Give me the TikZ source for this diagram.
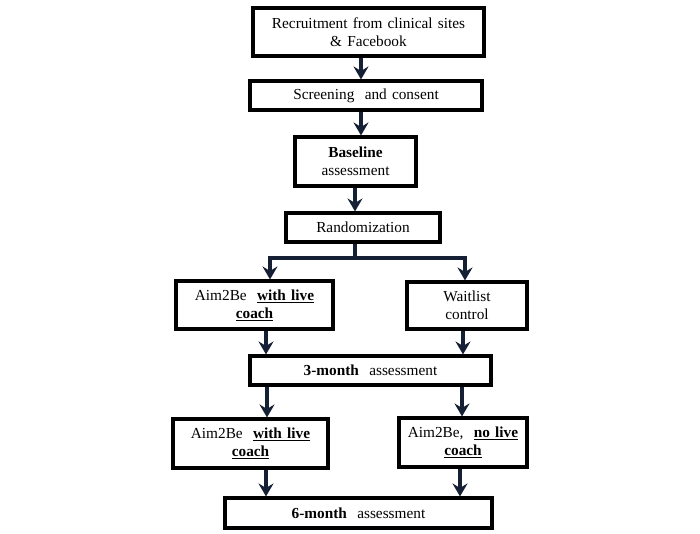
\documentclass[tikz,border=0pt]{standalone}
\usepackage{fontspec}
\setmainfont{Liberation Serif}[WordSpace=1.35]
\usetikzlibrary{arrows.meta}
\definecolor{arrowblue}{RGB}{22,32,52}

\begin{document}
\begin{tikzpicture}[x=1pt, y=-1pt, font=\fontsize{15.3}{18}\selectfont,
    box/.style={draw=black, line width=3.1pt, align=center, inner sep=0pt},
    arr/.style={draw=arrowblue, line width=3.2pt, -{Stealth[length=13pt,width=15pt,inset=4.5pt]}}]
    \useasboundingbox (0,0) rectangle (700,533);
    \node[box, minimum width=231, minimum height=48] (recruit) at (368.5,32) {Recruitment from clinical sites\\ \& Facebook};
    \node[box, minimum width=232, minimum height=29] (screen) at (366,95.5) {Screening\ \ and consent};
    \node[box, minimum width=121, minimum height=49] (baseline) at (355.5,161.5) {\textbf{Baseline}\\ assessment};
    \node[box, minimum width=154, minimum height=29] (random) at (363,227.5) {Randomization};
    \node[box, minimum width=157, minimum height=48] (aimA) at (254.5,305) {Aim2Be\ \ \underline{\textbf{with live}}\\ \underline{\textbf{coach}}};
    \node[box, minimum width=120, minimum height=47] (wait) at (467,305.5) {Waitlist\\ control};
    \node[box, minimum width=241, minimum height=29] (three) at (370.5,370.5) {\textbf{3-month}\ \ assessment};
    \node[box, minimum width=155, minimum height=49] (aimB) at (250.5,443.5) {Aim2Be\ \ \underline{\textbf{with live}}\\ \underline{\textbf{coach}}};
    \node[box, minimum width=128, minimum height=49] (aimC) at (463,442.5) {Aim2Be,\ \ \underline{\textbf{no live}}\\ \underline{\textbf{coach}}};
    \node[box, minimum width=267, minimum height=30] (six) at (358.5,513) {\textbf{6-month}\ \ assessment};
    \coordinate (split) at (355,258);
    \draw[arr] (recruit.south -| 361,0) -- (screen.north -| 361,0);
    \draw[arr] (screen.south -| 361,0) -- (baseline.north -| 361,0);
    \draw[arr] (baseline.south -| 355,0) -- (random.north -| 355,0);
    \draw[draw=arrowblue, line width=3.2pt] (random.south -| split) -- (split);
    \draw[arr] (split) -| (aimA.north -| 270,0);
    \draw[arr] (split) -| (wait.north -| 465,0);
    \draw[arr] (aimA.south -| 266,0) -- (three.north -| 266,0);
    \draw[arr] (wait.south -| 463,0) -- (three.north -| 463,0);
    \draw[arr] (three.south -| 267,0) -- (aimB.north -| 267,0);
    \draw[arr] (three.south -| 462,0) -- (aimC.north -| 462,0);
    \draw[arr] (aimB.south -| 266,0) -- (six.north -| 266,0);
    \draw[arr] (aimC.south -| 460,0) -- (six.north -| 460,0);
\end{tikzpicture}
\end{document}
